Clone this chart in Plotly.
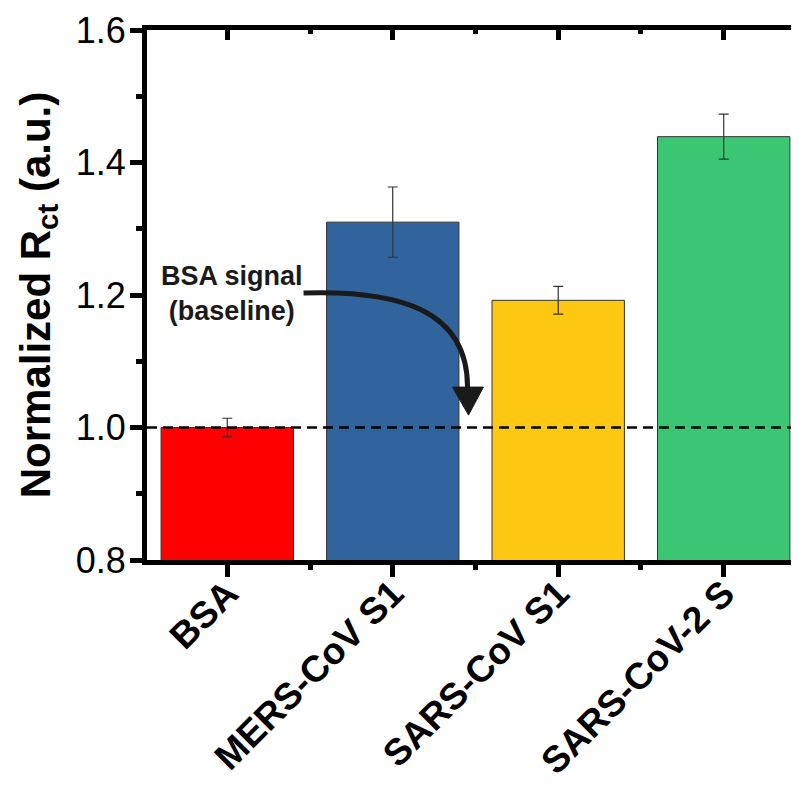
import plotly.graph_objects as go

categories = ["BSA", "MERS-CoV S1", "SARS-CoV S1", "SARS-CoV-2 S"]
values = [1.0, 1.31, 1.192, 1.439]
errors = [0.014, 0.053, 0.021, 0.034]
colors = ["#FF0000", "#31649C", "#FEC712", "#3AC673"]
y_ticks = [0.8, 1.0, 1.2, 1.4, 1.6]
baseline = values[0]

FONT = "Arial, Liberation Sans, sans-serif"
pos = list(range(len(categories)))

fig = go.Figure()
fig.add_trace(go.Bar(
    x=pos, y=values, width=0.8,
    marker=dict(color=colors, line=dict(color="#333333", width=1)),
    error_y=dict(type="data", array=errors, color="#333333", thickness=1.2, width=5),
    showlegend=False, hoverinfo="skip",
))
# invisible trace for mirrored axes
fig.add_trace(go.Scatter(x=pos, y=values, xaxis="x2", yaxis="y2", mode="markers",
                         marker=dict(opacity=0), showlegend=False, hoverinfo="skip"))

xr = [-0.485, 3.455]
yr = [0.8, 1.6]
fig.update_layout(
    width=791, height=781,
    margin=dict(l=139, r=0, t=22, b=229),
    plot_bgcolor="white", paper_bgcolor="white",
    font=dict(family=FONT, color="black"),
    xaxis=dict(range=xr, tickvals=pos, ticktext=["<b>%s</b>" % c for c in categories],
               tickangle=-45, tickfont=dict(size=37), showline=True, linewidth=5, linecolor="black",
               ticks="outside", ticklen=12, tickwidth=5, tickcolor="black", showgrid=False, zeroline=False,
               automargin=False, ticklabelstandoff=-20,
               minor=dict(tickvals=[p + 0.5 for p in pos], ticks="outside", ticklen=5, tickwidth=5, tickcolor="black")),
    yaxis=dict(range=yr, tickvals=y_ticks, ticktext=["%.1f" % v for v in y_ticks], tickfont=dict(size=36),
               showline=True, linewidth=5, linecolor="black", automargin=False, ticklabelstandoff=-3,
               ticks="outside", ticklen=12, tickwidth=5, tickcolor="black", showgrid=False, zeroline=False,
               minor=dict(dtick=0.1, tick0=0.8, ticks="outside", ticklen=6, tickwidth=5, tickcolor="black"),
               title=dict(text="<b>Normalized R<sub>ct</sub> (a.u.)</b>", font=dict(size=42), standoff=14)),
    xaxis2=dict(range=xr, overlaying="x", side="top", tickvals=pos, showticklabels=False,
                showline=True, linewidth=5, linecolor="black", ticks="inside", ticklen=10, tickwidth=5,
                tickcolor="black", showgrid=False, zeroline=False, automargin=False,
                minor=dict(tickvals=[p + 0.5 for p in pos], ticks="inside", ticklen=4, tickwidth=5, tickcolor="black")),
    yaxis2=dict(range=yr, overlaying="y", side="right", tickvals=y_ticks[1:-1], showticklabels=False,
                showline=False, ticks="inside", ticklen=5, tickwidth=5, tickcolor="black",
                showgrid=False, zeroline=False, automargin=False),
)

# baseline dashed line
fig.add_shape(type="line", xref="paper", yref="y", x0=0, x1=1, y0=baseline, y1=baseline,
              line=dict(color="black", width=2.5, dash="10px,6px"))

# curved arrow
fig.add_shape(type="path", xref="x", yref="y",
              path="M 0.461,1.203 C 1.041,1.2075 1.452,1.1775 1.452,1.061",
              line=dict(color="#1a1a1a", width=5))
fig.add_shape(type="path", xref="x", yref="y",
              path="M 1.361,1.061 L 1.548,1.061 L 1.458,1.0187 Z",
              fillcolor="#1a1a1a", line=dict(color="#1a1a1a", width=1))

fig.add_annotation(x=0.03, y=1.203, xref="x", yref="y", text="<b>BSA signal<br>(baseline)</b>",
                   showarrow=False, font=dict(size=27, color="#1a1a1a"), align="center")

fig.write_html("out.html")
